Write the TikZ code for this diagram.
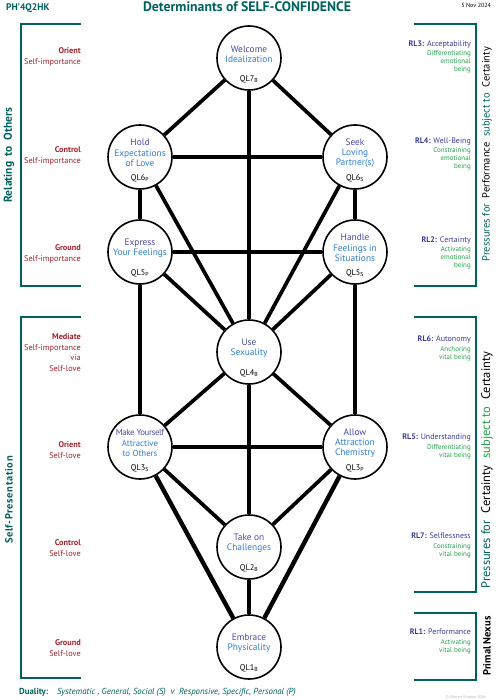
\documentclass[tikz,border=0pt]{standalone}
\usepackage{fontspec}
\setmainfont{PT Sans}
\definecolor{tealc}{HTML}{00625E}
\definecolor{dred}{HTML}{A3202B}
\definecolor{nodep}{HTML}{4A4AA6}
\definecolor{nodeb}{HTML}{2F7FCB}
\definecolor{rlc}{HTML}{3A3A98}
\definecolor{greenc}{HTML}{22A048}
\newcommand\firstl[1]{\textcolor{nodep}{#1}}
\newcommand\restl[1]{\textcolor{nodeb}{#1}}
\newcommand\qlsub[2]{QL#1\textsubscript{#2}}
\begin{document}
\begin{tikzpicture}[x=1bp,y=-1bp,
  qlnode/.style={circle, draw, line width=1.6bp, fill=white, minimum size=64bp, inner sep=0pt},
  qltext/.style={align=center, inner sep=0pt, font=\fontsize{9.4}{10.3}\selectfont},
  qlcode/.style={inner sep=0pt, font=\fontsize{8.3}{9}\selectfont},
  conn/.style={line width=3.7bp},
  connthick/.style={line width=4.4bp},
  brk/.style={draw=tealc, line width=2bp},
  leftlab/.style={align=right, anchor=east, inner sep=0pt, text=dred, font=\fontsize{8.3}{10.8}\selectfont},
  rightlab/.style={align=right, anchor=east, inner sep=0pt, font=\fontsize{7}{8}\selectfont},
  sidetext/.style={rotate=90, inner sep=0pt, font=\fontsize{10.5}{12}\selectfont}
]
\useasboundingbox (0,0) rectangle (496,700);

% circles
\node[qlnode] (q7) at (249,58) {};
\node[qlnode] (q6p) at (140,157) {};
\node[qlnode] (q6s) at (355,157) {};
\node[qlnode] (q5p) at (140,252) {};
\node[qlnode] (q5s) at (355,252) {};
\node[qlnode] (q4) at (249,352) {};
\node[qlnode] (q3s) at (140,447) {};
\node[qlnode] (q3p) at (355,447) {};
\node[qlnode] (q2) at (249,547) {};
\node[qlnode] (q1) at (249,647) {};

% connectors
\draw[conn] (q7) -- (q6p);
\draw[conn] (q7) -- (q6s);
\draw[conn] (q7) -- (q4);
\draw[conn] (q6p) -- (q6s);
\draw[conn] (q6p) -- (q5p);
\draw[conn] (q6s) -- (q5s);
\draw[conn] (q6p) -- (q4);
\draw[conn] (q6s) -- (q4);
\draw[conn] (q5p) -- (q5s);
\draw[conn] (q5p) -- (q4);
\draw[conn] (q5s) -- (q4);
\draw[conn] (q5p) -- (q3s);
\draw[conn] (q5s) -- (q3p);
\draw[conn] (q4) -- (q3s);
\draw[conn] (q4) -- (q3p);
\draw[conn] (q4) -- (q2);
\draw[conn] (q3s) -- (q3p);
\draw[conn] (q3s) -- (q2);
\draw[conn] (q3p) -- (q2);
\draw[connthick] (q3s) -- (q1);
\draw[connthick] (q3p) -- (q1);
\draw[conn] (q2) -- (q1);

% circle texts
\node[qltext] (t7) at ([yshift=4bp]q7.center) {\firstl{Welcome}\\\restl{Idealization}};
\node[qlcode] (c7) at ([yshift=-21bp]q7.center) {\qlsub{7}{B}};
\node[qltext] (t6p) at ([yshift=4bp]q6p.center) {\firstl{Hold}\\\restl{Expectations}\\\restl{of Love}};
\node[qlcode] (c6p) at ([yshift=-21bp]q6p.center) {\qlsub{6}{P}};
\node[qltext] (t6s) at ([yshift=4bp]q6s.center) {\firstl{Seek}\\\restl{Loving}\\\restl{Partner(s)}};
\node[qlcode] (c6s) at ([yshift=-21bp]q6s.center) {\qlsub{6}{S}};
\node[qltext] (t5p) at ([yshift=4bp]q5p.center) {\firstl{Express}\\\restl{Your Feelings}};
\node[qlcode] (c5p) at ([yshift=-21bp]q5p.center) {\qlsub{5}{P}};
\node[qltext] (t5s) at ([yshift=4bp]q5s.center) {\firstl{Handle}\\\restl{Feelings in}\\\restl{Situations}};
\node[qlcode] (c5s) at ([yshift=-21bp]q5s.center) {\qlsub{5}{S}};
\node[qltext] (t4) at ([yshift=4bp]q4.center) {\firstl{Use}\\\restl{Sexuality}};
\node[qlcode] (c4) at ([yshift=-21bp]q4.center) {\qlsub{4}{B}};
\node[qltext, font=\fontsize{8.8}{10.3}\selectfont] (t3s) at ([yshift=4bp]q3s.center) {\firstl{\addfontfeatures{LetterSpace=-4}Make Yourself}\\\restl{Attractive}\\\restl{to Others}};
\node[qlcode] (c3s) at ([yshift=-21bp]q3s.center) {\qlsub{3}{S}};
\node[qltext] (t3p) at ([yshift=4bp]q3p.center) {\firstl{Allow}\\\restl{Attraction}\\\restl{Chemistry}};
\node[qlcode] (c3p) at ([yshift=-21bp]q3p.center) {\qlsub{3}{P}};
\node[qltext] (t2) at ([yshift=4bp]q2.center) {\firstl{Take on}\\\restl{Challenges}};
\node[qlcode] (c2) at ([yshift=-21bp]q2.center) {\qlsub{2}{B}};
\node[qltext] (t1) at ([yshift=4bp]q1.center) {\firstl{Embrace}\\\restl{Physicality}};
\node[qlcode] (c1) at ([yshift=-21bp]q1.center) {\qlsub{1}{B}};

% header
\node[anchor=west, inner sep=0pt, text=tealc, font=\fontsize{9.6}{11}\selectfont\bfseries] (code) at (6,8) {PH’4Q2HK};
\node[inner sep=0pt, text=tealc, font=\fontsize{13.8}{15}\selectfont\bfseries] (title) at (247,7) {Determinants of SELF-CONFIDENCE};
\node[anchor=east, inner sep=0pt, font=\fontsize{6}{7}\selectfont] (date) at (491,5) {5 Nov 2024};

% left brackets
\draw[brk] (81,24) -- (21,24) -- (21,286) -- (81,286);
\draw[brk] (81,317) -- (21,317) -- (21,678) -- (81,678);
\node[sidetext, text=tealc, font=\fontsize{11.5}{13}\selectfont\bfseries] (relating) at (9,155) {Relating\ \ to\ \ Others};
\node[sidetext, text=tealc, font=\fontsize{10.5}{12}\selectfont\bfseries\addfontfeatures{LetterSpace=6}] (selfpres) at (9,500) {Self-Presentation};

% left labels
\node[leftlab] (l1) at (81,57) {\textbf{Orient}\\Self-importance};
\node[leftlab] (l2) at (81,155.5) {\textbf{Control}\\Self-importance};
\node[leftlab] (l3) at (81,253.5) {\textbf{Ground}\\Self-importance};
\node[leftlab] (l4) at (81,352.5) {\textbf{Mediate}\\Self-importance\\via\\Self-love};
\node[leftlab] (l5) at (81,450) {\textbf{Orient}\\Self-love};
\node[leftlab] (l6) at (81,548) {\textbf{Control}\\Self-love};
\node[leftlab] (l7) at (81,648) {\textbf{Ground}\\Self-love};

% right brackets
\draw[brk] (414,24) -- (476,24) -- (476,286) -- (414,286);
\draw[brk] (414,317) -- (476,317) -- (476,592) -- (414,592);
\draw[brk] (414,613) -- (476,613) -- (476,680) -- (414,680);
\node[sidetext] (press1) at (487,154) {\textcolor{tealc}{Pressures for}\ \ Performance\ \ \textcolor{tealc}{subject to}\ \ Certainty};
\node[sidetext, font=\fontsize{12.5}{14}\selectfont] (press2) at (487,470) {\textcolor{tealc}{Pressures for}\ \ Certainty\ \ \textcolor{greenc}{subject to}\ \ Certainty};
\node[sidetext, font=\fontsize{10.5}{12}\selectfont\bfseries] (primal) at (487,646) {Primal Nexus};

% right labels
\node[rightlab] (r3) at (471,57) {\textcolor{rlc}{\fontsize{8}{9.5}\selectfont\textbf{RL3:} Acceptability}\\[1bp]\textcolor{greenc}{Differentiating}\\\textcolor{greenc}{emotional}\\\textcolor{greenc}{being}};
\node[rightlab] (r4) at (471,154) {\textcolor{rlc}{\fontsize{8}{9.5}\selectfont\textbf{RL4:} Well-Being}\\[1bp]\textcolor{greenc}{Constraining}\\\textcolor{greenc}{emotional}\\\textcolor{greenc}{being}};
\node[rightlab] (r2) at (471,253) {\textcolor{rlc}{\fontsize{8}{9.5}\selectfont\textbf{RL2:} Certainty}\\[1bp]\textcolor{greenc}{Activating}\\\textcolor{greenc}{emotional}\\\textcolor{greenc}{being}};
\node[rightlab] (r6) at (471,348) {\textcolor{rlc}{\fontsize{8}{9.5}\selectfont\textbf{RL6:} Autonomy}\\[2bp]\textcolor{greenc}{Anchoring}\\\textcolor{greenc}{vital being}};
\node[rightlab] (r5) at (471,446) {\textcolor{rlc}{\fontsize{8}{9.5}\selectfont\textbf{RL5:} Understanding}\\[2bp]\textcolor{greenc}{Differentiating}\\\textcolor{greenc}{vital being}};
\node[rightlab] (r7) at (471,545) {\textcolor{rlc}{\fontsize{8}{9.5}\selectfont\textbf{RL7:} Selflessness}\\[2bp]\textcolor{greenc}{Constraining}\\\textcolor{greenc}{vital being}};
\node[rightlab] (r1) at (471,641) {\textcolor{rlc}{\fontsize{8}{9.5}\selectfont\textbf{RL1:} Performance}\\[2bp]\textcolor{greenc}{Activating}\\\textcolor{greenc}{vital being}};

% footer
\node[anchor=west, inner sep=0pt, text=tealc, font=\fontsize{8.8}{10}\selectfont] (duality) at (19,692) {\textbf{Duality:}\quad\textit{Systematic , General, Social (S)\ \ v\ \ Responsive, Specific, Personal (P)}};
\node[anchor=east, inner sep=0pt, text=gray!60, font=\fontsize{4}{5}\selectfont] (copy) at (486,697) {© Warren Kinston 2024};
\end{tikzpicture}
\end{document}
